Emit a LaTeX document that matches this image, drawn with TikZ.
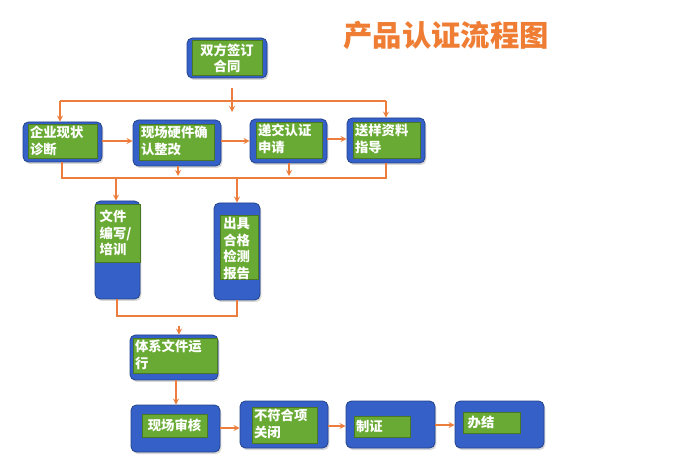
\documentclass[tikz,border=0pt]{standalone}
\usepackage{fontspec}
\newfontfamily\cjk{Noto Sans CJK SC}
\usetikzlibrary{fit,shadows}
\definecolor{bblue}{RGB}{52,96,200}
\definecolor{bgreen}{RGB}{104,170,52}
\definecolor{ora}{RGB}{236,125,60}
\tikzset{
 outer/.style={draw=bblue!70!black,line width=0.6pt,fill=bblue,rounded corners=4pt,inner sep=0pt,drop shadow={opacity=0.3,shadow xshift=1pt,shadow yshift=-1.5pt}},
 inner/.style={fill=bgreen,draw=bgreen!70!black,line width=0.3pt,inner sep=0pt},
 txt/.style={anchor=north west,text=white,font=\cjk\bfseries\fontsize{10}{12.5}\selectfont,align=left,inner sep=1.5pt},
 arr/.style={draw=ora,line width=1pt,->,>=stealth},
 ln/.style={draw=ora,line width=1pt},
}
\newcommand\bx[9]{%
 \coordinate (#1o1) at (#2,#3); \coordinate (#1o2) at (#4,#5);
 \node[outer,fit=(#1o1)(#1o2)] (#1) {};
 \coordinate (#1i1) at (#6,#7); \coordinate (#1i2) at (#8,#9);
 \node[inner,fit=(#1i1)(#1i2)] (#1g) {};}
\begin{document}
\begin{tikzpicture}[x=0.75pt,y=-0.75pt]
\path[fill=white] (0,0) rectangle (700,470);
\node[font=\cjk\bfseries\fontsize{22}{24}\selectfont,text=ora!85!orange,draw=none] (title) at (446,35) {产品认证流程图};
\bx{a}{187}{38}{267}{78}{192}{40}{262}{75}\node[txt,anchor=north,align=center] at ([yshift=-1pt]ag.north) {双方签订\\合同};
\bx{b}{23}{122}{102}{162}{28}{124}{97}{158}\node[txt] at (bg.north west) {企业现状\\诊断};
\bx{c}{133}{120}{221}{166}{139}{124}{214}{160}\node[txt] at (cg.north west) {现场硬件确\\认整改};
\bx{d}{250}{119}{327}{163}{256}{122}{322}{158}\node[txt] at (dg.north west) {递交认证\\申请};
\bx{e}{347}{118}{425}{163}{353}{122}{420}{158}\node[txt] at (eg.north west) {送样资料\\指导};
\bx{f}{95}{201}{140}{299}{95}{204}{140}{262}\node[txt] at ([xshift=2pt,yshift=-3pt]fg.north west) {文件\\编写/\\培训};
\bx{g}{214}{203}{260}{300}{220}{215}{258}{279}\node[txt] at ([xshift=1pt]gg.north west) {出具\\合格\\检测\\报告};
\bx{h}{130}{335}{218}{380}{133}{338}{217}{373}\node[txt] at (hg.north west) {体系文件运\\行};
\bx{i}{131}{405}{220}{452}{142}{414}{207}{437}\node[txt,anchor=center] at (ig.center) {现场审核};
\bx{j}{240}{401}{328}{448}{252}{407}{317}{443}\node[txt] at (jg.north west) {不符合项\\关闭};
\bx{k}{346}{401}{435}{448}{354}{416}{410}{437}\node[txt,anchor=west] at (kg.west) {制证};
\bx{l}{455}{401}{544}{448}{463}{412}{520}{433}\node[txt,anchor=west] at ([xshift=2pt]lg.west) {办结};
\coordinate (t1) at (232,88); \coordinate (t2) at (232,112);
\draw[arr] (t1) -- (t2);
\coordinate (tl) at (60,101); \coordinate (tr) at (386,101);
\draw[ln] (tl) -- (tr);
\draw[arr] (tl) -- (tl |- b.north);
\draw[arr] (tr) -- (tr |- e.north);
\coordinate (r1) at (0,141); \coordinate (r2) at (0,139);
\draw[arr] (b.east |- r1) -- (c.west |- r1);
\draw[arr] (c.east |- r1) -- (d.west |- r1);
\draw[arr] (d.east |- r2) -- (e.west |- r2);
\coordinate (bl) at (62,178); \coordinate (br) at (386,178);
\draw[ln] (bl |- b.south) -- (bl) -- (br) -- (br |- e.south);
\coordinate (cb) at (178,176); \coordinate (db) at (289,176);
\draw[arr] (cb |- c.south) -- (cb);
\draw[arr] (db |- d.south) -- (db);
\coordinate (fb) at (116,178); \coordinate (gb) at (237,178);
\draw[arr] (fb) -- (fb |- f.north);
\draw[arr] (gb) -- (gb |- g.north);
\coordinate (jl) at (117,316); \coordinate (jr) at (237,316);
\draw[ln] (jl |- f.south) -- (jl) -- (jr) -- (jr |- g.south);
\coordinate (h0) at (179,326);
\draw[arr] (h0) -- (h0 |- h.north);
\coordinate (hi) at (176,0);
\draw[arr] (hi |- h.south) -- (hi |- i.north);
\coordinate (s1) at (0,428); \coordinate (s2) at (0,426); \coordinate (s3) at (0,425);
\draw[arr] (i.east |- s1) -- (j.west |- s1);
\draw[arr] (j.east |- s2) -- (k.west |- s2);
\draw[arr] (k.east |- s3) -- (l.west |- s3);
\end{tikzpicture}
\end{document}
